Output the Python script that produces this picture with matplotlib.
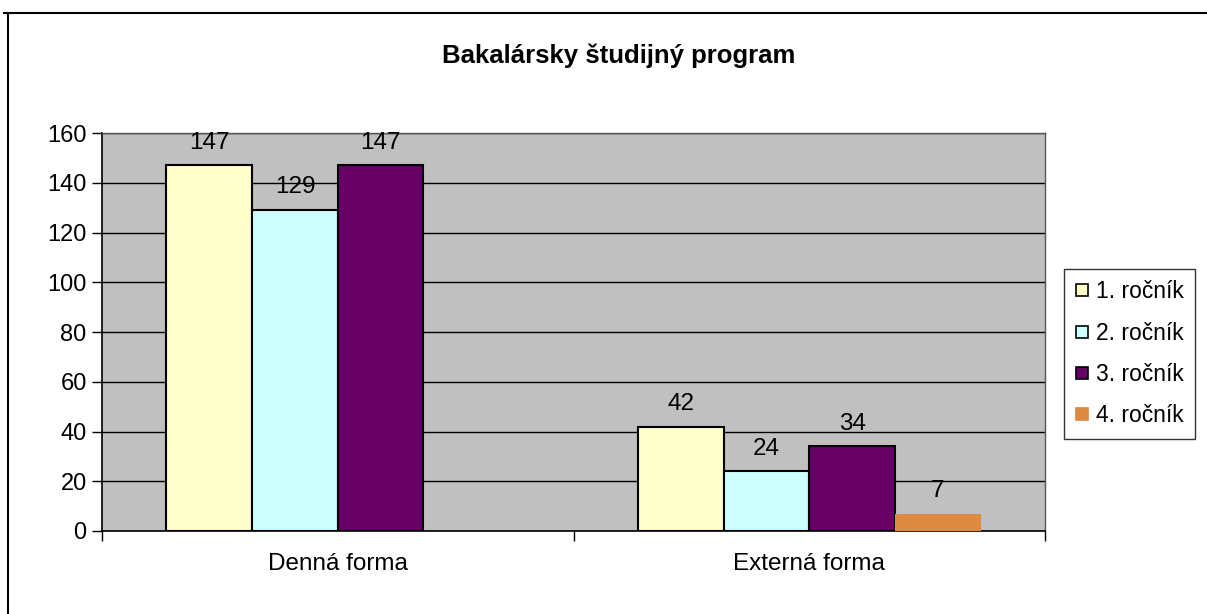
import numpy as np
import matplotlib.pyplot as plt
from matplotlib.lines import Line2D

plt.rcParams['font.family'] = ['Liberation Sans', 'DejaVu Sans']

# data
categories = ['Denná forma', 'Externá forma']
series_names = ['1. ročník', '2. ročník', '3. ročník', '4. ročník']
values = [
    [147, 42],
    [129, 24],
    [147, 34],
    [None, 7],
]
colors = ['#FFFFCC', '#CCFFFF', '#660066', '#DE8A40']
edges = ['black', 'black', 'black', 'none']
title = 'Bakalársky študijný program'

fig = plt.figure(figsize=(12.07, 6.14), dpi=100)
ax = fig.add_axes([0.0845, 0.1352, 0.7813, 0.648])
ax.set_facecolor('#C0C0C0')

x = np.arange(len(categories))
w = 1 / 5.5
for i, name in enumerate(series_names):
    for j, v in enumerate(values[i]):
        if v is None:
            continue
        xi = x[j] + (i - 1.5) * w
        ax.bar(xi, v, width=w, color=colors[i], edgecolor=edges[i],
               linewidth=1.5, zorder=3)
        ax.annotate(str(v), (xi, v), xytext=(0, 8.5), textcoords='offset points',
                    ha='center', va='bottom', fontsize=17.5)

ax.set_xlim(-0.5, 1.5)
ax.set_ylim(0, 160)
ax.set_yticks(range(0, 161, 20))
ax.yaxis.grid(True, color='black', linewidth=1, zorder=1)
ax.set_axisbelow(True)
ax.tick_params(axis='y', labelsize=17, length=7, width=1, direction='out', pad=4)

# category ticks at boundaries, labels at centers
ax.set_xticks([-0.5, 0.5, 1.5])
ax.set_xticklabels([])
ax.set_xticks(x, minor=True)
ax.set_xticklabels(categories, minor=True, fontsize=17.5)
ax.tick_params(axis='x', which='major', length=7, width=1, direction='out')
ax.tick_params(axis='x', which='minor', length=0, pad=16)

for s in ['left', 'bottom']:
    ax.spines[s].set_color('black')
    ax.spines[s].set_linewidth(1.2)
for s in ['top', 'right']:
    ax.spines[s].set_color('#555555')
    ax.spines[s].set_linewidth(1)

handles = [Line2D([], [], marker='s', linestyle='none', markersize=8,
                  markerfacecolor=c, markeredgecolor=('black' if e != 'none' else c),
                  markeredgewidth=1.2)
           for c, e in zip(colors, edges)]
leg = fig.legend(handles, series_names, loc='center left',
                 bbox_to_anchor=(1064 / 1207, 1 - 354 / 614), fontsize=16.5,
                 frameon=True, fancybox=False, edgecolor='black',
                 handlelength=0.6, handletextpad=0.3, labelspacing=0.8,
                 borderpad=0.5, borderaxespad=0)
leg.get_frame().set_linewidth(1)

fig.text(619 / 1207, 1 - 56 / 614, title, ha='center', va='center',
         fontsize=18.5, fontweight='bold')

# outer border of the chart area
fig.add_artist(Line2D([4 / 1207, 1], [1 - 13 / 614] * 2, color='black',
                      linewidth=1.5, transform=fig.transFigure))
fig.add_artist(Line2D([8 / 1207] * 2, [0, 1 - 13 / 614], color='black',
                      linewidth=1.5, transform=fig.transFigure))

fig.savefig('out.png', dpi=100)
